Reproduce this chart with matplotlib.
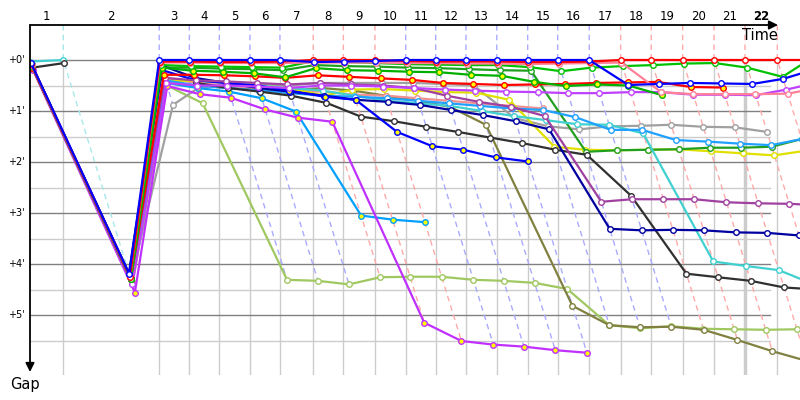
import numpy as np
import matplotlib
matplotlib.use("Agg")
import matplotlib.pyplot as plt

nan = np.nan

# leader's race time (minutes) at the end of each lap, index 0 = start
lap_end = [0.0, 2.12, 8.23, 10.15, 12.06, 14.01, 15.92, 18.04, 19.96, 21.97, 23.93,
           25.84, 27.77, 29.73, 31.70, 33.61, 35.62, 37.62, 39.57, 41.57, 43.57,
           45.54, 47.60, 49.60]
lap_labels = [str(k) for k in range(1, 23)]
# who led each lap (laps 1..22)
lap_leader = ['cyan'] + ['blue'] * 5 + ['red'] * 3 + ['blue'] * 7 + ['red'] * 6

# gaps to leader in minutes, laps 0..23
blue = [0.05, 4.20, 0, 0, 0, 0, 0, 0.04, 0.03, 0.02, 0, 0, 0, 0, 0, 0, 0,
        0.49, 0.47, 0.45, 0.46, 0.47, 0.37, 0.20]
red = [0.08, 4.25, 0.03, 0.03, 0.04, 0.04, 0.03, 0, 0, 0, 0.02, 0.03, 0.03, 0.03,
       0.04, 0.04, 0.03, 0, 0, 0, 0, 0, 0, 0]
pink = [0.10, 4.25, 0.05, 0.05, 0.06, 0.06, 0.06, 0.05, 0.05, 0.05, 0.06, 0.06,
        0.07, 0.07, 0.08, 0.07, 0.06, 0.05, 0.63, 0.67, 0.67, 0.67, 0.66, 0.55]
green1 = [0.10, 4.30, 0.10, 0.12, 0.13, 0.14, 0.15, 0.02, 0.04, 0.06, 0.08, 0.09,
          0.10, 0.10, 0.14, 0.22, 0.15, 0.12, 0.10, 0.07, 0.06, 0.15, 0.33, 0.0]
green2 = [0.12, 4.30, 0.15, 0.21, 0.23, 0.26, 0.34, 0.16, 0.20, 0.21, 0.23, 0.24,
          0.29, 0.31, 0.43, 0.51, 0.48, 0.50, 0.69, nan, nan, nan, nan, nan]
red2 = [0.15, 4.30, 0.29, 0.29, 0.30, 0.32, 0.35, 0.30, 0.33, 0.36, 0.39, 0.45,
        0.47, 0.49, 0.48, 0.47, 0.45, 0.44, 0.43, 0.53, 0.54, nan, nan, nan]
violet = [0.15, 4.40, 0.45, 0.50, 0.50, 0.52, 0.55, 0.50, 0.50, 0.52, 0.55, 0.58,
          0.60, 0.62, 0.63, 0.65, 0.65, 0.63, 0.63, 0.68, 0.68, 0.69, 0.58, 0.45]
purple = [0.10, 4.30, 0.35, 0.40, 0.42, 0.45, 0.48, 0.45, 0.48, 0.50, 0.55, 0.70,
          0.82, 0.92, 1.10, 2.78, 2.73, 2.73, 2.73, 2.79, 2.81, 2.82, 2.85, 2.90]
olive = [0.12, 4.35, 0.45, 0.50, 0.55, 0.58, 0.60, 0.55, 0.60, 0.70, 0.80, 0.92,
         1.27, 4.82, 5.20, 5.24, 5.23, 5.29, 5.49, 5.71, 5.90, 6.10, nan, nan]
black = [0.15, 0.06, nan, 0.45, 0.55, 0.62, 0.70, 0.84, 1.11, 1.20, 1.31, 1.41,
         1.52, 1.63, 1.76, 1.86, 2.66, 4.19, 4.26, 4.33, 4.46, 4.50, 4.60, nan]
turquoise = [0.03, 0.0, nan, 0.40, 0.45, 0.50, 0.55, 0.60, 0.70, 0.80, 0.85, 0.90,
             1.00, 1.10, 1.18, 1.26, 1.27, 1.44, 3.95, 4.04, 4.12, 4.40, 4.60, nan]
sky1 = [0.10, 4.30, 0.45, 0.55, 0.62, 0.75, 1.01, 3.05, 3.13, 3.18, nan, nan, nan,
        nan, nan, nan, nan, nan, nan, nan, nan, nan, nan, nan]
sky2 = [0.10, 4.30, 0.40, 0.50, 0.55, 0.60, 0.65, 0.70, 0.72, 0.75, 0.80, 0.85,
        0.90, 0.95, 0.98, 1.12, 1.37, 1.37, 1.57, 1.60, 1.64, 1.67, 1.55, nan]
gray = [0.10, 4.30, 0.88, 0.55, 0.50, 0.48, 0.50, 0.45, 0.45, 0.45, 0.45, 0.47,
        0.50, 1.14, 1.30, 1.36, 1.30, 1.29, 1.27, 1.31, 1.32, 1.41, nan, nan]
yellow = [0.12, 4.35, 0.42, 0.40, 0.45, 0.50, 0.55, 0.70, 0.58, 0.57, 0.60, 0.63,
          0.64, 0.78, 1.70, 1.76, 1.77, 1.76, 1.75, 1.79, 1.83, 1.87, 1.78, nan]
magenta = [0.20, 4.56, 0.51, 0.67, 0.74, 0.97, 1.13, 1.21, 5.15, 5.51, 5.58, 5.62,
           5.69, 5.74, nan, nan, nan, nan, nan, nan, nan, nan, nan, nan]
lightgreen = [0.10, 4.40, 0.50, 0.85, 4.31, 4.33, 4.40, 4.26, 4.25, 4.25, 4.31,
              4.33, 4.37, 4.49, 5.20, 5.26, 5.22, 5.27, 5.28, 5.29, 5.28, 5.30, nan, nan]
navy = [0.08, 4.18, 0.10, 0.35, 0.45, 0.55, 0.62, 0.70, 0.78, 0.82, 0.88, 0.98,
        1.08, 1.20, 1.36, 3.31, 3.34, 3.33, 3.34, 3.38, 3.39, 3.44, 3.50, nan]
blue2 = [0.08, 4.20, 0.20, 0.40, 0.45, 0.50, 0.60, 0.72, 0.78, 1.41, 1.69, 1.76,
         1.91, 1.99, nan, nan, nan, nan, nan, nan, nan, nan, nan, nan]
salmon = [0.12, 4.30, 0.35, 0.45, 0.50, 0.55, 0.60, 0.62, 0.68, 0.70, 0.75, 0.80,
          0.85, 0.90, 0.95, nan, nan, nan, nan, nan, nan, nan, nan, nan]
green3 = [0.10, 4.30, 0.15, 0.15, 0.17, 0.18, 0.20, 0.10, 0.12, 0.13, 0.15, 0.16,
          0.18, 0.20, 0.21, 1.80, 1.77, 1.76, 1.75, 1.72, 1.72, 1.70, 1.55, nan]

series = [
    (lightgreen, '#a0c860', 'white'),
    (olive, '#808040', 'white'),
    (salmon, '#f09090', 'white'),
    (gray, '#a0a0a0', 'white'),
    (yellow, '#e0e000', 'white'),
    (green3, '#20a020', 'white'),
    (turquoise, '#40d0d0', 'white'),
    (sky2, '#20a0ff', 'white'),
    (sky1, '#00a0ff', '#ffff00'),
    (black, '#303030', 'white'),
    (navy, '#0000a0', 'white'),
    (blue2, '#0000ff', '#ffff00'),
    (purple, '#a040a0', 'white'),
    (magenta, '#c030ff', '#ffff00'),
    (violet, '#c040ff', 'white'),
    (red2, '#ff0000', '#ffff00'),
    (green2, '#00b000', '#ffff00'),
    (green1, '#00c000', 'white'),
    (pink, '#ff8099', 'white'),
    (red, '#ff0000', 'white'),
    (blue, '#0000ff', 'white'),
]

dash_colors = {'cyan': '#a8e8e8', 'blue': '#aaaaff', 'red': '#ffaaaa'}

PX_X = 15.7   # pixels per minute along x
PX_Y = 51.0   # pixels per minute of gap
x0_px, top_px, bot_px = 30, 25, 375
xmax = (800 - x0_px) / PX_X
ytop = -(60 - top_px) / PX_Y
ybot = (bot_px - 60) / PX_Y

fig = plt.figure(figsize=(8, 4), dpi=100)
ax = fig.add_axes([x0_px / 800, (400 - bot_px) / 400, 1 - x0_px / 800,
                   (bot_px - top_px) / 400])
ax.set_xlim(0, xmax)
ax.set_ylim(ybot, ytop)
ax.axis('off')

T = np.array(lap_end)
grid_end = (770 - x0_px) / PX_X

# horizontal grid
for g in np.arange(0.5, 6.0, 1.0):
    ax.plot([0, grid_end], [g, g], color='#cccccc', lw=1, zorder=1)
for g in range(0, 6):
    ax.plot([0, grid_end], [g, g], color='#808080', lw=1, zorder=1.1)
# vertical grid at lap ends
for k in range(1, 23):
    ax.plot([T[k], T[k]], [0, ybot], color='#cccccc',
            lw=2.5 if k == 21 else 1, zorder=1)

# per-lap dashed lines from leader to last car
all_gaps = np.array([s[0] for s in series], dtype=float)
for k in range(1, 23):
    gmax = np.nanmax(all_gaps[:, k])
    c = dash_colors[lap_leader[k - 1]]
    ax.plot([T[k], T[k], T[k] + gmax], [ytop, 0, gmax], color=c, lw=1,
            ls=(0, (4, 3)), zorder=1.5, clip_on=False)

for gaps, col, face in series:
    g = np.array(gaps, dtype=float)
    ax.plot(T + g, g, '-', color=col, lw=1.6, marker='o', ms=4,
            mfc=face, mec=col, mew=1.0, zorder=3)

# axes with arrows
ax.annotate('', xy=((778 - x0_px) / PX_X, ytop), xytext=(0, ytop),
            arrowprops=dict(arrowstyle='-|>', color='black', lw=1.3,
                            mutation_scale=13, shrinkA=0, shrinkB=0),
            annotation_clip=False, zorder=5)
ax.annotate('', xy=(0, (372 - 60) / PX_Y), xytext=(0, ytop),
            arrowprops=dict(arrowstyle='-|>', color='black', lw=1.3,
                            mutation_scale=13, shrinkA=0, shrinkB=0),
            annotation_clip=False, zorder=5)

# lap labels centred in each lap
for k in range(1, 23):
    ax.text((T[k - 1] + T[k]) / 2, -(60 - 17) / PX_Y, lap_labels[k - 1],
            ha='center', va='center', fontsize=8.5,
            fontweight='bold' if k == 22 else 'normal', clip_on=False)
for g in range(0, 6):
    ax.text(-0.35, g, "+%d'" % g, ha='right', va='center', fontsize=7,
            clip_on=False)

ax.text((760 - x0_px) / PX_X, (35 - 60) / PX_Y, 'Time', ha='center',
        va='center', fontsize=10.5, clip_on=False)
ax.text((25 - x0_px) / PX_X, (385 - 60) / PX_Y, 'Gap', ha='center',
        va='center', fontsize=10.5, clip_on=False)

fig.savefig('out.png', dpi=100)
